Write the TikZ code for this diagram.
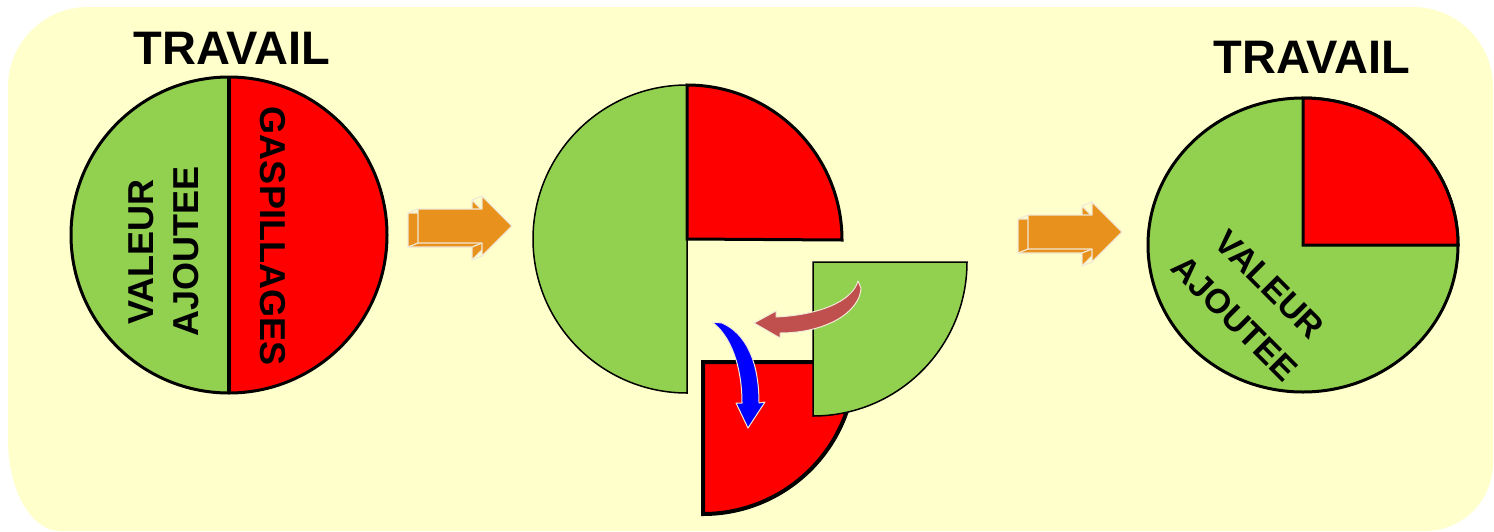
\documentclass[tikz,border=0pt]{standalone}
\usepackage{fontspec}
\setmainfont{Liberation Sans}
\definecolor{bgyellow}{RGB}{255,255,204}
\definecolor{pgreen}{RGB}{146,208,80}
\definecolor{pred}{RGB}{255,0,0}
\definecolor{orange3d}{RGB}{232,145,28}
\definecolor{arrowedge}{RGB}{240,234,214}
\definecolor{brownred}{RGB}{192,80,77}
\definecolor{pblue}{RGB}{0,0,255}
\tikzset{
  title/.style={font=\fontsize{47}{47}\selectfont\bfseries, inner sep=0pt, text height=34pt, text depth=0pt},
  lbl/.style={font=\fontsize{36}{36}\selectfont\bfseries, inner sep=0pt, text height=26pt, text depth=0pt},
  rlbl/.style={font=\fontsize{34}{34}\selectfont\bfseries, inner sep=0pt, text height=24.5pt, text depth=0pt, rotate=-45},
  pics/fatarrow/.style={code={
    \fill[orange3d,draw=arrowedge,line width=1.2pt,line join=round] (-10,4) -- (54,4) -- (54,-9) -- (84,21) -- (54,51) -- (54,38) -- (-10,38) -- cycle;
    \draw[arrowedge,line width=1.2pt] (-10,4)--(0,0) (-10,38)--(0,34) (54,38)--(64,34) (54,51)--(64,47) (54,-9)--(64,-13);
    \fill[orange3d,draw=arrowedge,line width=1.2pt,line join=round] (0,0) -- (64,0) -- (64,-13) -- (94,17) -- (64,47) -- (64,34) -- (0,34) -- cycle;
  }}
}
\begin{document}
\begin{tikzpicture}[x=1pt,y=-1pt]
\clip (0,0) rectangle (1494,531);
% background panel
\fill[bgyellow] (8,440) -- (8,87) arc[start angle=180,end angle=270,radius=80]
  -- (1413,7) arc[start angle=270,end angle=360,radius=80]
  -- (1493,463) arc[start angle=0,end angle=90,radius=68]
  -- (60,531) arc[start angle=90,end angle=180,x radius=52,y radius=91] -- cycle;

% ---- left circle ----
\fill[pgreen] (229,77) arc[start angle=-90,end angle=-270,radius=158] -- cycle;
\fill[pred] (229,77) arc[start angle=-90,end angle=90,radius=158] -- cycle;
\draw[line width=3pt] (229,235) circle[radius=158];
\draw[line width=4pt] (229,77) -- (229,393);
\node[title] (t1) at (232,47) {TRAVAIL};
\node[lbl,rotate=90] (v1) at (140,252) {VALEUR};
\node[lbl,rotate=90] (a1) at (185,251) {AJOUTEE};
\node[lbl,rotate=-90] (g1) at (273,236) {GASPILLAGES};

% ---- arrows ----
\pic at (418,209) {fatarrow};
\pic at (1028,215) {fatarrow};

% ---- middle pieces ----
\filldraw[fill=pgreen,line width=1.5pt] (687,85) arc[start angle=-90,end angle=-270,radius=154] -- cycle;
\filldraw[fill=pred,line width=3pt,line join=miter] (687,239) -- (687,85) arc[start angle=-90,end angle=0,radius=155] -- cycle;
\filldraw[fill=pred,line width=4pt,line join=miter] (703,362) -- (855,362) arc[start angle=0,end angle=90,radius=152] -- cycle;
\filldraw[fill=pgreen,line width=1.5pt] (813,262) -- (967,262) arc[start angle=0,end angle=90,radius=154] -- cycle;

% curved arrows
\filldraw[fill=brownred,draw=arrowedge,line width=1pt,line join=round]
  (858,281) .. controls (852,302) and (818,315) .. (776,317) -- (776,311) -- (754,323) -- (780,338) -- (780,333)
  .. controls (826,333) and (860,312) .. (861,288) -- cycle;
\filldraw[fill=pblue,draw=arrowedge,line width=1pt,line join=round]
  (712,322) .. controls (730,335) and (742,365) .. (742,403) -- (736,403) -- (748,428) -- (765,402) -- (759,403)
  .. controls (759,360) and (745,333) .. (722,323) -- cycle;

% ---- right circle ----
\filldraw[fill=pgreen,line width=3pt] (1303,245) ellipse[x radius=155,y radius=147];
\filldraw[fill=pred,line width=3pt,line join=miter] (1303,245) -- (1303,98) arc[start angle=-90,end angle=0,x radius=155,y radius=147] -- cycle;
\node[title] (t2) at (1312,56) {TRAVAIL};
\node[rlbl] (v2) at (1270,284) {VALEUR};
\node[rlbl] (a2) at (1235,318) {AJOUTEE};
\end{tikzpicture}
\end{document}
